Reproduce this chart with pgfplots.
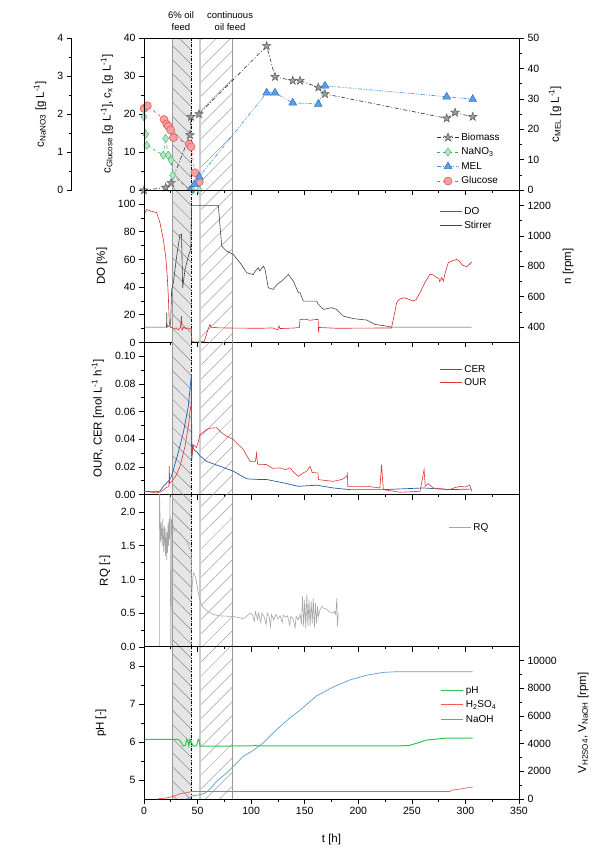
\documentclass[border=0pt]{standalone}
\usepackage{fontspec}
\setmainfont{Liberation Sans}
\usepackage{pgfplots}
\pgfplotsset{compat=1.18}
\usetikzlibrary{patterns.meta}

\definecolor{bmline}{HTML}{333333}
\definecolor{bmfill}{HTML}{9E9E9E}
\definecolor{bmdraw}{HTML}{5A5A5A}
\definecolor{naline}{HTML}{3DAA5C}
\definecolor{nafill}{HTML}{B5E6C5}
\definecolor{nadraw}{HTML}{4DBB72}
\definecolor{meline}{HTML}{3C8DE0}
\definecolor{mefill}{HTML}{5AA0E8}
\definecolor{medraw}{HTML}{2E6FC0}
\definecolor{glline}{HTML}{F05050}
\definecolor{glfill}{HTML}{F7A0A0}
\definecolor{gldraw}{HTML}{E84C4C}
\definecolor{docol}{HTML}{D92B2B}
\definecolor{stcol}{HTML}{454545}
\definecolor{cercol}{HTML}{2A5CAA}
\definecolor{ourcol}{HTML}{E03434}
\definecolor{rqcol}{HTML}{A6A6A6}
\definecolor{phcol}{HTML}{2DC653}
\definecolor{h2col}{HTML}{F05A5A}
\definecolor{nacol}{HTML}{5B9BD5}

% filled five-point star
\pgfdeclareplotmark{fstar}{%
  \pgfpathmoveto{\pgfpointpolar{90}{1.25\pgfplotmarksize}}%
  \pgfpathlineto{\pgfpointpolar{126}{0.5\pgfplotmarksize}}%
  \pgfpathlineto{\pgfpointpolar{162}{1.25\pgfplotmarksize}}%
  \pgfpathlineto{\pgfpointpolar{198}{0.5\pgfplotmarksize}}%
  \pgfpathlineto{\pgfpointpolar{234}{1.25\pgfplotmarksize}}%
  \pgfpathlineto{\pgfpointpolar{270}{0.5\pgfplotmarksize}}%
  \pgfpathlineto{\pgfpointpolar{306}{1.25\pgfplotmarksize}}%
  \pgfpathlineto{\pgfpointpolar{342}{0.5\pgfplotmarksize}}%
  \pgfpathlineto{\pgfpointpolar{18}{1.25\pgfplotmarksize}}%
  \pgfpathlineto{\pgfpointpolar{54}{0.5\pgfplotmarksize}}%
  \pgfpathclose
  \pgfusepathqfillstroke}

\pgfplotsset{
  legend image code/.code={\draw[mark repeat=2,mark phase=2,#1] plot coordinates {(0pt,0pt)(11pt,0pt)(22pt,0pt)};},
  panel/.style={scale only axis, width=375pt, height=152.2pt, xmin=0, xmax=350,
    xtick={0,50,...,350}, minor x tick num=1, xtick pos=lower, ytick pos=left, yticklabel pos=left,
    tick align=outside, major tick length=5pt, minor tick length=2.5pt,
    every tick/.style={black, line width=0.6pt}, axis line style={line width=0.8pt},
    font=\fontsize{10.5}{12}\selectfont, scaled y ticks=false,
    /pgf/number format/assume math mode=true, /pgf/number format/1000 sep={},
    ylabel style={font=\fontsize{11.5}{13}\selectfont, anchor=center},
    legend style={draw=none, fill=none, font=\fontsize{10}{11}\selectfont, anchor=north west, row sep=1pt, inner sep=0pt},
    legend cell align=left},
  right/.style={ytick pos=right, yticklabel pos=right, xtick=\empty},
  thicklegend/.style={legend image post style={line width=1pt}},
  biomass/.style={bmline, dash pattern=on 4pt off 2pt on 1pt off 2pt, line width=0.6pt, mark=fstar, mark size=3.5pt, mark options={solid, fill=bmfill, draw=bmdraw, line width=0.5pt}},
  nano/.style={naline, dashed, line width=0.6pt, mark=diamond*, mark size=4pt, mark options={solid, fill=nafill, draw=nadraw, line width=0.5pt}},
  mel/.style={meline, dash pattern=on 4pt off 1.5pt on 1pt off 1.5pt on 1pt off 1.5pt, line width=0.6pt, mark=triangle*, mark size=4.5pt, mark options={solid, fill=mefill, draw=medraw, line width=0.5pt}},
  gluc/.style={glline, dashed, line width=0.6pt, mark=*, mark size=4pt, mark options={solid, fill=glfill, draw=gldraw, line width=0.5pt}},
}

\newcommand{\regions}[2]{%
  \fill[gray!20] (axis cs:26.8,#1) rectangle (axis cs:44.5,#2);
  \fill[pattern={Lines[angle=-45,distance=10pt,line width=0.5pt]}, pattern color=gray!90] (axis cs:26.8,#1) rectangle (axis cs:44.5,#2);
  \fill[pattern={Lines[angle=45,distance=10pt,line width=0.5pt]}, pattern color=gray!75] (axis cs:52.3,#1) rectangle (axis cs:82.4,#2);
  \draw[gray!80, line width=0.5pt] (axis cs:26.8,#1) -- (axis cs:26.8,#2);
  \draw[gray!40, line width=1.4pt] (axis cs:52.3,#1) -- (axis cs:52.3,#2);
  \draw[gray!80, line width=0.5pt] (axis cs:82.4,#1) -- (axis cs:82.4,#2);
  \draw[black, dash pattern=on 3pt off 1.5pt on 0.8pt off 1.5pt, line width=0.7pt] (axis cs:44.5,#1) -- (axis cs:44.5,#2);
}

\begin{document}
\begin{tikzpicture}
\useasboundingbox (0pt,0pt) rectangle (600pt,-863pt);

% ---------- panel 1: concentrations ----------
\begin{axis}[panel, xticklabels={}, at={(144pt,-190.2pt)}, anchor=south west,
  ymin=0, ymax=40, ytick={0,10,...,40}, minor y tick num=1, clip=false,
  ylabel={c\textsubscript{Glucose} [g L\textsuperscript{-1}], c\textsubscript{x} [g L\textsuperscript{-1}]},
  ylabel style={at={(axis description cs:-0.099,0.5)}}]
\regions{0}{40}
\node[align=center, font=\fontsize{9.5}{11.5}\selectfont, anchor=south, yshift=4pt] at (axis cs:34.5,40) {6\% oil\\feed};
\node[align=center, font=\fontsize{9.5}{11.5}\selectfont, anchor=south, yshift=4pt] at (axis cs:80.3,40) {continuous\\oil feed};
\addplot[gluc] coordinates {(0,21.5)(3.1,22.2)(18.7,18.6)(21.2,17.4)(22.7,16.8)(24.9,15.8)(27.4,13.8)(42.3,12.1)(43.9,11.4)(47.6,4.6)(51.6,2.2)};
\addplot[biomass] coordinates {(0,0)(20.2,0.7)(25.2,1.9)(42.9,14.5)(43.9,19.3)(51.3,20.0)(114.5,37.9)(122.3,29.8)(138.8,28.8)(145.6,28.8)(162.7,27.0)(168.9,25.3)(282.5,18.9)(290.3,20.4)(306.8,19.3)};
\end{axis}

\begin{axis}[panel, hide axis, at={(144pt,-190.2pt)}, anchor=south west, ymin=0, ymax=4]
\addplot[nano] coordinates {(0,1.93)(1.6,1.47)(2.5,1.18)(18,0.92)(20.2,1.36)(22.7,0.92)(25.2,0.79)(26.8,0.39)(43,0)(45.4,0)(51.6,0)};
\end{axis}

\begin{axis}[scale only axis, width=1pt, height=152.2pt, at={(71.7pt,-190.2pt)}, anchor=south west,
  xmin=0, xmax=1, ymin=0, ymax=4, axis x line=none, axis y line*=left,
  ytick={0,1,2,3,4}, minor y tick num=1, tick align=outside, major tick length=5pt, minor tick length=2.5pt,
  every tick/.style={black, line width=0.6pt}, axis line style={line width=0.8pt},
  font=\fontsize{10.5}{12}\selectfont, /pgf/number format/assume math mode=true,
  ylabel={c\textsubscript{NaNO3} [g L\textsuperscript{-1}]},
  ylabel style={font=\fontsize{11.5}{13}\selectfont, anchor=center, at={(axis description cs:-31.7,0.5)}}]
\addplot[draw=none] coordinates {(0,0)};
\end{axis}

\begin{axis}[panel, right, at={(144pt,-190.2pt)}, anchor=south west,
  ymin=0, ymax=50, ytick={0,10,...,50}, minor y tick num=1,
  ylabel={c\textsubscript{MEL} [g L\textsuperscript{-1}]},
  ylabel style={at={(axis description cs:1.096,0.5)}},
  legend style={at={(axis description cs:0.78,0.39)}, row sep=2pt}]
\addlegendimage{biomass}
\addlegendimage{nano}
\addlegendimage{mel}
\addlegendimage{gluc}
\addplot[mel, forget plot] coordinates {(43,0)(47,1.9)(51.6,4.4)(114.5,32.0)(122.3,32.0)(138.8,28.7)(162.7,28.3)(168.9,34.3)(282.5,30.7)(306.8,29.9)};
\legend{Biomass, NaNO\textsubscript{3}, MEL, Glucose}
\end{axis}

% ---------- panel 2: DO and stirrer ----------
\begin{axis}[panel, thicklegend, xticklabels={}, at={(144pt,-342.4pt)}, anchor=south west,
  ymin=0, ymax=110, ytick={0,20,...,100}, minor y tick num=1,
  ylabel={DO [\%]}, ylabel style={at={(axis description cs:-0.112,0.5)}},
  legend style={at={(axis description cs:0.787,0.9)}}]
\regions{0}{110}
\addplot[docol, line width=0.6pt] coordinates {(0,90)(1,94)(2.5,96)(6,95)(11.8,93.8)(14.9,86.5)(18,74.5)(20.2,62.4)(21.7,48)(22.7,33.5)(23.6,14.2)(24.9,10.6)(26,11)(28,9.5)(30,10.5)(32,9)(34,11)(35,19)(35.5,9)(37,11)(39,10)(41,10.5)(43,9.5)(44.3,10)(44.6,0.5)(50,0.3)(56,0.5)(58,5)(60,10)(61.6,13)(62.5,11)(70,10.5)(90,10.3)(110,10.2)(120,10.5)(125,9)(126,12)(127,10)(140,10.4)(145,10.8)(145.6,16.5)(150,16.8)(155,16)(160,16.5)(162.5,16.6)(162.8,10.5)(163,7)(163.2,10.8)(180,10.2)(200,10.3)(220,10.4)(231,10.4)(234,21.5)(235.8,28.7)(238,31)(242,32.3)(246,31.5)(251.4,29.9)(254,31)(257.6,35.9)(262,43)(266.9,49.2)(270,48.8)(273.2,46.8)(275,46.5)(276,44)(277.9,46.8)(279.4,44.3)(281,50)(284,57.6)(288,59)(291.8,60)(294,59)(297,56)(301.2,54.7)(303,56)(305.8,58.1)};
\addlegendimage{stcol, line width=0.6pt}
\legend{DO, Stirrer}
\end{axis}

\begin{axis}[panel, right, at={(144pt,-342.4pt)}, anchor=south west,
  ymin=300, ymax=1300, ytick={400,600,...,1200}, minor y tick num=1,
  ylabel={n [rpm]}, ylabel style={at={(axis description cs:1.131,0.5)}}]
\addplot[stcol, line width=0.6pt] coordinates {(0,400)(21,400)(21.2,495)(21.5,400)(24,410)(24.9,430)(25.8,648)(27.4,692)(30.5,867)(33.6,1010)(35,1010)(36.1,659)(38.3,780)(41.4,867)(43.6,911)(44.5,1200)(69.4,1200)(72.5,933)(77,900)(83.4,878)(90,820)(95.9,758)(102,746)(104,770)(106.7,791)(108,770)(111.4,801)(113,780)(116,659)(120.7,648)(124,680)(128.5,703)(134.7,747)(139.4,703)(144,627)(145.6,627)(148.7,571)(161.2,571)(162.7,550)(167.4,517)(175.2,528)(179.8,517)(186,473)(195.4,456)(207.8,447)(215.6,418)(226.5,407)(231.1,400)(305.8,400)};
\end{axis}

% ---------- panel 3: OUR and CER ----------
\begin{axis}[panel, thicklegend, xticklabels={}, at={(144pt,-494.6pt)}, anchor=south west,
  ymin=0, ymax=0.11, ytick={0,0.02,0.04,0.06,0.08,0.10}, minor y tick num=1,
  yticklabel style={/pgf/number format/.cd, fixed, fixed zerofill, precision=2},
  ylabel={OUR, CER [mol L\textsuperscript{-1} h\textsuperscript{-1}]}, ylabel style={at={(axis description cs:-0.123,0.5)}},
  legend style={at={(axis description cs:0.787,0.865)}}]
\regions{0}{0.11}
\addplot[cercol, line width=0.7pt] coordinates {(0,0.0024)(10,0.002)(15,0.0025)(18,0.006)(22.7,0.0096)(25,0.012)(27.4,0.018)(31.8,0.030)(36.7,0.0447)(41.4,0.064)(44.3,0.087)(44.6,0.025)(45.5,0.035)(47,0.032)(49.2,0.031)(52.3,0.028)(58.5,0.024)(70.9,0.0205)(83.4,0.0169)(95.9,0.0114)(105,0.011)(114.5,0.0109)(130,0.0085)(144,0.006)(161.2,0.0068)(176.7,0.0048)(192.3,0.0036)(223.4,0.0036)(260.7,0.0048)(285.6,0.0036)(305.8,0.004)};
\addplot[ourcol, line width=0.6pt] coordinates {(0,0.0024)(5,0.002)(11.8,0.0012)(16,0.002)(20.2,0.0048)(23.3,0.006)(23.6,0.0205)(24,0.008)(27.4,0.011)(30,0.014)(33.6,0.0205)(38.3,0.035)(41.4,0.0494)(43.6,0.064)(44.3,0.065)(44.6,0.0277)(46,0.036)(49.2,0.034)(52.3,0.0434)(58.5,0.047)(62,0.048)(67.8,0.0483)(72,0.045)(77.1,0.0422)(83.4,0.0398)(92.7,0.0326)(98.9,0.0241)(104,0.024)(105,0.030)(106,0.022)(114.5,0.0217)(120,0.019)(126.9,0.0193)(132,0.018)(136.2,0.0193)(140,0.016)(144,0.0132)(148.7,0.0157)(152,0.017)(155,0.0205)(157,0.016)(161.2,0.0157)(162.5,0.0155)(162.7,0.0108)(176.7,0.0096)(185,0.011)(189.2,0.0132)(189.8,0.015)(190.2,0.006)(207.8,0.006)(220.2,0.0048)(221.7,0.0217)(223.4,0.0036)(238.9,0.0017)(257.6,0.0024)(261.4,0.018)(262.5,0.006)(265,0.008)(270,0.0048)(285,0.0036)(290,0.005)(295,0.006)(300,0.0055)(304,0.007)(305.8,0.0024)};
\legend{CER, OUR}
\end{axis}

% ---------- panel 4: RQ ----------
\begin{axis}[panel, thicklegend, xticklabels={}, at={(144pt,-646.8pt)}, anchor=south west,
  ymin=0, ymax=2.26, ytick={0,0.5,1,1.5,2}, minor y tick num=1,
  yticklabel style={/pgf/number format/.cd, fixed, fixed zerofill, precision=1},
  ylabel={RQ [-]}, ylabel style={at={(axis description cs:-0.104,0.5)}},
  legend style={at={(axis description cs:0.811,0.825)}}]
\regions{0}{2.26}
\addplot[rqcol, line width=0.6pt] coordinates {(14.3,0)(14.4,2.4)(15,1.9)(15.5,1.55)(16,1.85)(16.5,1.69)(17,1.5)(17.5,1.9)(18,1.6)(18.5,1.4)(19,1.8)(19.6,1.59)(20,1.35)(20.5,1.75)(21.2,1.29)(21.6,1.7)(22,1.4)(22.5,1.85)(23,1.5)(23.5,1.9)(24,1.6)(24.3,2.4)(24.6,1.5)(24.9,0)(25.3,0)(25.6,1.9)(26,1.7)(27.4,1.79)(28.5,1.72)(30,1.75)(31.5,1.7)(33.6,1.69)(35,1.66)(37,1.62)(39.9,1.57)(41.5,1.5)(42.9,1.44)(44,1.42)(44.5,0.75)(45,0.9)(46,1.10)(47,1.08)(48.6,1.0)(50.7,0.80)(53,0.65)(55.4,0.58)(60,0.52)(64.7,0.48)(70,0.46)(83.4,0.45)(92.7,0.42)(95,0.44)(98.9,0.50)(101,0.48)(103,0.38)(104,0.52)(106,0.40)(107,0.50)(109,0.36)(110,0.50)(112,0.45)(114,0.33)(115,0.50)(117,0.44)(118,0.30)(119,0.48)(121,0.40)(123,0.48)(125,0.42)(127,0.46)(129,0.36)(130,0.47)(132,0.44)(134,0.46)(136,0.32)(137,0.45)(139,0.42)(141,0.28)(142,0.45)(144,0.40)(145.6,0.48)(147,0.35)(148,0.75)(149,0.30)(150,0.70)(151,0.27)(152,0.78)(153,0.32)(154,0.70)(155,0.30)(156,0.68)(157,0.35)(158,0.72)(159,0.28)(160,0.65)(161,0.35)(162,0.60)(162.7,0.45)(164.3,0.55)(166,0.60)(168,0.57)(170.5,0.56)(173,0.52)(176.7,0.50)(178,0.53)(179,0.48)(180,0.72)(180.5,0.30)(181.3,0.50)};
\legend{RQ}
\end{axis}

% ---------- panel 5: pH, acid and base ----------
\begin{axis}[panel, thicklegend, at={(144pt,-799pt)}, anchor=south west,
  ymin=4.5, ymax=8.5, ytick={5,6,7,8}, minor y tick num=1,
  ylabel={pH [-]}, ylabel style={at={(axis description cs:-0.115,0.5)}},
  xlabel={t [h]}, xlabel style={font=\fontsize{11.5}{13}\selectfont, at={(axis description cs:0.5,0)}, anchor=center, yshift=-41pt},
  legend style={at={(axis description cs:0.791,0.755)}, row sep=2pt}]
\regions{4.5}{8.5}
\addplot[phcol, line width=1pt] coordinates {(0,6.07)(30.5,6.07)(33,6.05)(35,5.97)(36.7,5.89)(38.5,5.9)(39.9,6.07)(41,6.0)(41.8,5.89)(42.9,6.07)(44,6.0)(46,5.89)(49,5.9)(50.7,6.07)(51.5,6.05)(52.3,5.89)(100,5.895)(105,5.91)(106,5.895)(246.7,5.9)(255,5.97)(264,6.05)(282.5,6.10)(306.8,6.10)};
\addlegendimage{h2col, line width=0.7pt}
\addlegendimage{nacol, line width=0.7pt}
\legend{pH, H\textsubscript{2}SO\textsubscript{4}, NaOH}
\end{axis}

\begin{axis}[panel, right, at={(144pt,-799pt)}, anchor=south west,
  ymin=0, ymax=11000, ytick={0,2000,...,10000}, minor y tick num=1,
  ylabel={V\textsubscript{H2SO4}, V\textsubscript{NaOH} [rpm]}, ylabel style={at={(axis description cs:1.171,0.5)}}]
\addplot[h2col, line width=0.7pt] coordinates {(11.8,0)(20,60)(27.4,190)(33.6,380)(41.4,480)(44.5,550)(285.6,550)(287,640)(295,720)(306.8,870)};
\addplot[nacol, line width=0.7pt] coordinates {(39.9,0)(46,240)(52.3,310)(56.9,430)(61.6,720)(67.8,1280)(77.1,1880)(83.4,2360)(92.7,3090)(102.1,3520)(111.4,4060)(123.8,5020)(136.3,5870)(145.6,6420)(161,7450)(176.7,8100)(192,8600)(208,8950)(223,9150)(236,9200)(306.8,9200)};
\end{axis}
\end{tikzpicture}
\end{document}
